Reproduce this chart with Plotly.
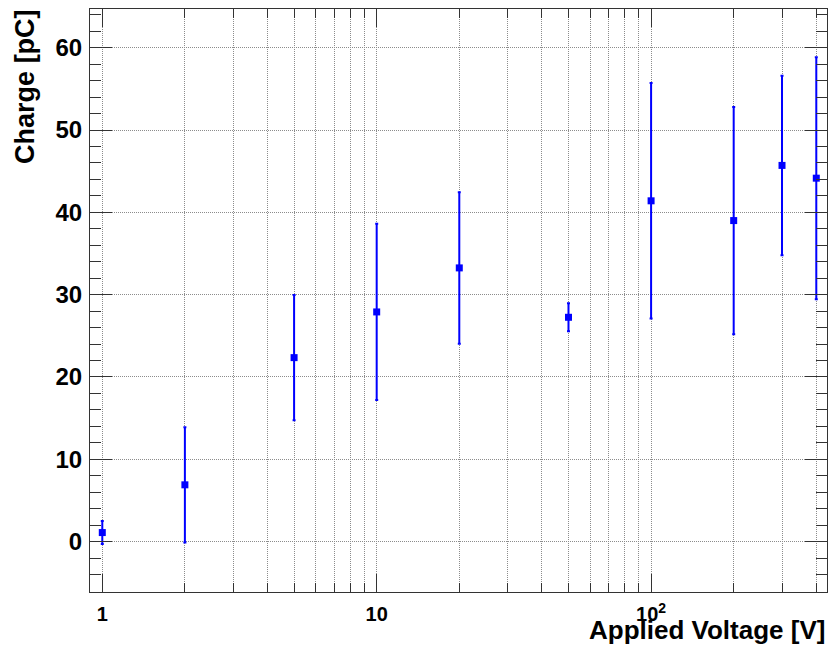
import plotly.graph_objects as go
import numpy as np

voltage = [1, 2, 5, 10, 20, 50, 100, 200, 300, 400]
charge = [1.1, 6.9, 22.35, 27.9, 33.25, 27.25, 41.4, 39.0, 45.7, 44.15]
charge_err = [1.4, 7.0, 7.6, 10.7, 9.2, 1.7, 14.3, 13.8, 10.9, 14.7]

x_major = [1, 10, 100]
x_major_text = ["1", "10", "10<sup>2</sup>"]
x_minor = [2, 3, 4, 5, 6, 7, 8, 9, 20, 30, 40, 50, 60, 70, 80, 90, 200, 300, 400]

x_range = [0.902, 437.6]
y_range = [-6.12, 64.7]

FONT = "Liberation Sans"
frame_color = "#333333"
grid_color = "#8c8c8c"
grid_dash = "1px,1px"

fig = go.Figure()
fig.add_trace(go.Scatter(
    x=voltage, y=charge, mode="markers",
    marker=dict(symbol="square", size=7, color="#0000ff"),
    error_y=dict(type="data", array=charge_err, visible=True,
                 color="#0000ff", thickness=2, width=1.5),
    showlegend=False,
))

fig.update_layout(
    width=840, height=652,
    margin=dict(l=90, r=13, t=9, b=60),
    paper_bgcolor="white", plot_bgcolor="white",
    font=dict(family=FONT, color="black"),
    xaxis=dict(
        type="log",
        range=[np.log10(x_range[0]), np.log10(x_range[1])],
        tickmode="array", tickvals=x_major, ticktext=x_major_text,
        ticks="inside", ticklen=18, tickwidth=1, tickcolor=frame_color,
        showline=True, linecolor=frame_color, linewidth=1, mirror="ticks",
        showgrid=True, gridcolor=grid_color, griddash=grid_dash, gridwidth=1,
        tickfont=dict(family=FONT, size=20, color="black", weight="bold"),
        ticklabelstandoff=4,
        zeroline=False,
        minor=dict(tickmode="array", tickvals=x_minor, ticks="inside", ticklen=9,
                   tickcolor=frame_color, tickwidth=1,
                   showgrid=True, gridcolor=grid_color, griddash=grid_dash, gridwidth=1),
    ),
    yaxis=dict(
        range=y_range,
        tickmode="linear", tick0=0, dtick=10,
        ticks="inside", ticklen=22, tickwidth=1, tickcolor=frame_color,
        showline=True, linecolor=frame_color, linewidth=1, mirror="ticks",
        showgrid=True, gridcolor=grid_color, griddash=grid_dash, gridwidth=1,
        tickfont=dict(family=FONT, size=24, color="black", weight="bold"),
        ticklabelstandoff=2,
        zeroline=False,
        minor=dict(dtick=2, tick0=0, ticks="inside", ticklen=11,
                   tickcolor=frame_color, tickwidth=1, showgrid=False),
    ),
    annotations=[
        dict(text="Applied Voltage [V]", xref="paper", yref="paper",
             x=1.0, y=-0.066, xanchor="right", yanchor="middle", showarrow=False,
             font=dict(family=FONT, size=26, color="black", weight="bold")),
        dict(text="Charge [pC]", xref="paper", yref="paper", textangle=-90,
             x=-0.088, y=1.003, xanchor="center", yanchor="top", showarrow=False,
             font=dict(family=FONT, size=27, color="black", weight="bold")),
    ],
)

fig.write_html("out.html")
